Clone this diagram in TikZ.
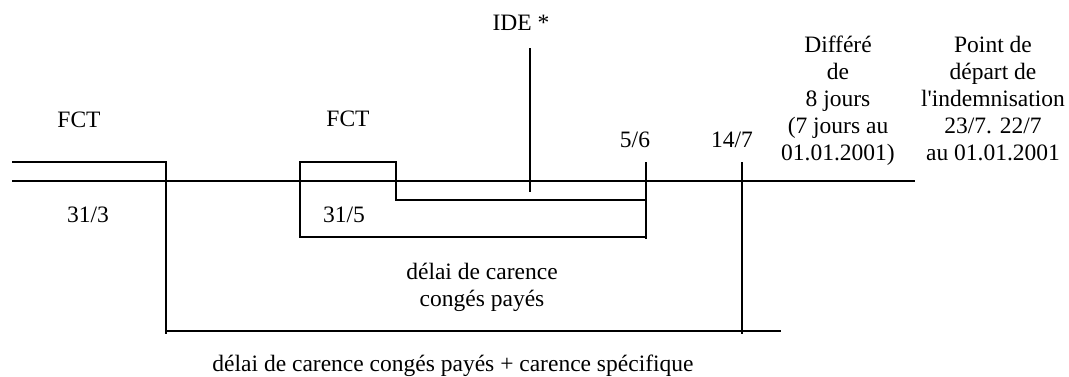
\documentclass[tikz,border=0pt]{standalone}
\usepackage{fontspec}
\setmainfont{Liberation Serif}[Ligatures=TeXOff]
\begin{document}
\begin{tikzpicture}[x=1pt,y=-1pt,
    tl/.style={line width=1.8pt, line join=miter},
    lbl/.style={font=\fontsize{23.5}{27}\selectfont, inner sep=0pt, anchor=base},
    blk/.style={font=\fontsize{23.5}{27}\selectfont, inner sep=0pt, align=center}]
  \useasboundingbox (0,0) rectangle (1069,376);

  % time axis
  \coordinate (ax0) at (12,181);
  \coordinate (ax1) at (915,181);
  \draw[tl] (ax0) -- (ax1);

  % first FCT period ending 31/3
  \coordinate (f0) at (12,162);
  \coordinate (f1) at (166,162);
  \coordinate (f2) at (166,334);
  \draw[tl] (f0) -- (f1) -- (f2);

  % overall waiting period bar
  \coordinate (b0) at (166,331);
  \coordinate (b1) at (781,331);
  \draw[tl] (b0) -- (b1);

  % 14/7 marker
  \coordinate (m0) at (742,162);
  \coordinate (m1) at (742,334);
  \draw[tl] (m0) -- (m1);

  % second FCT period and paid-leave waiting period
  \coordinate (c0) at (646,237);
  \coordinate (c1) at (300,237);
  \coordinate (c2) at (300,162);
  \coordinate (c3) at (396,162);
  \coordinate (c4) at (396,200);
  \coordinate (c5) at (646,200);
  \draw[tl] (c0) -- (c1) -- (c2) -- (c3) -- (c4) -- (c5);

  % 5/6 marker
  \coordinate (s0) at (646,162);
  \coordinate (s1) at (646,239);
  \draw[tl] (s0) -- (s1);

  % IDE marker
  \coordinate (i0) at (530,48);
  \coordinate (i1) at (530,192);
  \draw[tl] (i0) -- (i1);

  % labels
  \node[lbl] (fct1) at (79,127) {FCT};
  \node[lbl] (fct2) at (348,126) {FCT};
  \node[lbl] (ide) at (521,30) {IDE *};
  \node[lbl] (d313) at (88,222) {31/3};
  \node[lbl] (d315) at (344,222) {31/5};
  \node[lbl] (d56) at (635,147) {5/6};
  \node[lbl] (d147) at (732,147) {14/7};

  \node[blk] (differe) at (838,101) {Différé\\de\\8 jours\\(7 jours au\\01.01.2001)};
  \node[blk] (depart) at (993,99) {Point de\\départ de\\l'indemnisation\\23/7. 22/7\\au 01.01.2001};

  \node[blk] (cp) at (482,287) {délai de carence\\congés payés};
  \node[lbl] (total) at (453,371) {délai de carence congés payés + carence spécifique};
\end{tikzpicture}
\end{document}
